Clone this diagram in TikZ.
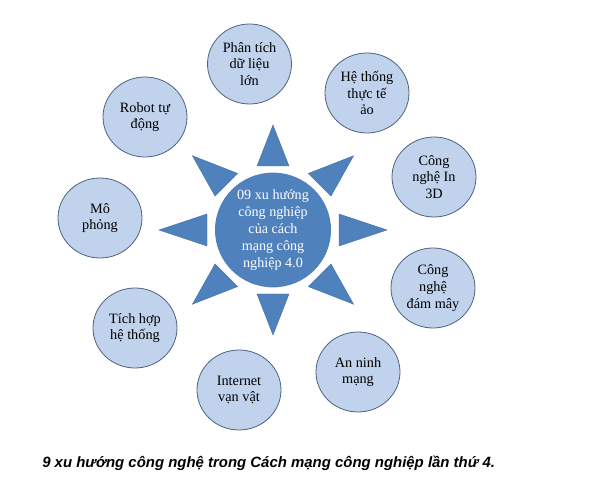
\documentclass[tikz,border=0pt]{standalone}
\usepackage{fontspec}
\setmainfont{Liberation Serif}
\newfontfamily\capfont{Liberation Sans}
\usepackage{tikz}
\usetikzlibrary{positioning, shapes.geometric, calc}
\definecolor{hubblue}{RGB}{79,129,189}
\definecolor{trendfill}{RGB}{192,210,236}
\definecolor{trendline}{RGB}{78,98,128}
\tikzstyle{trend} = [ellipse, minimum width=63pt, minimum height=60pt, inner sep=0pt, align=center, draw=trendline, line width=0.6pt, fill=trendfill, font=\fontsize{10.7}{12.5}\selectfont]
\tikzstyle{hub} = [ellipse, minimum width=87pt, minimum height=85pt, inner sep=0pt, align=center, fill=hubblue, text=white, font=\fontsize{10.6}{12.8}\selectfont]
\tikzstyle{ray} = [fill=hubblue, draw=hubblue!85!black, line width=0.3pt]
\begin{document}
\begin{tikzpicture}[x=0.75pt, y=-0.75pt]
        \useasboundingbox (0,0) rectangle (597,477);
        \node (hub) [hub] at (273,230) {09 xu hướng\\công nghiệp\\của cách\\mạng công\\nghiệp 4.0};
        \node (data) [trend] at (249.5,64) {Phân tích\\dữ liệu\\lớn};
        \node (vr) [trend] at (367,93) {Hệ thống\\thực tế\\ảo};
        \node (print3d) [trend] at (434,177) {Công\\nghệ In\\3D};
        \node (cloud) [trend] at (433,288) {Công\\nghệ\\đám mây};
        \node (security) [trend] at (358,372) {An ninh\\mạng};
        \node (iot) [trend] at (239,390) {Internet\\vạn vật};
        \node (integration) [trend] at (135,328) {Tích hợp\\hệ thống};
        \node (simulation) [trend] at (100,218) {Mô\\phỏng};
        \node (robot) [trend] at (145,117) {Robot tự\\động};

        \foreach \a in {0,45,...,315}
          \draw [ray] ($(hub.center)+(\a:66 and 64)+(\a+90:16)$) -- ($(hub.center)+(\a:114 and 105)$) -- ($(hub.center)+(\a:66 and 64)+(\a-90:16)$) -- cycle;

        \node (caption) [anchor=west, inner sep=0pt, font=\capfont\bfseries\itshape\fontsize{11.2}{13}\selectfont] at (42,463) {9 xu hướng công nghệ trong Cách mạng công nghiệp lần thứ 4.};
\end{tikzpicture}
\end{document}
